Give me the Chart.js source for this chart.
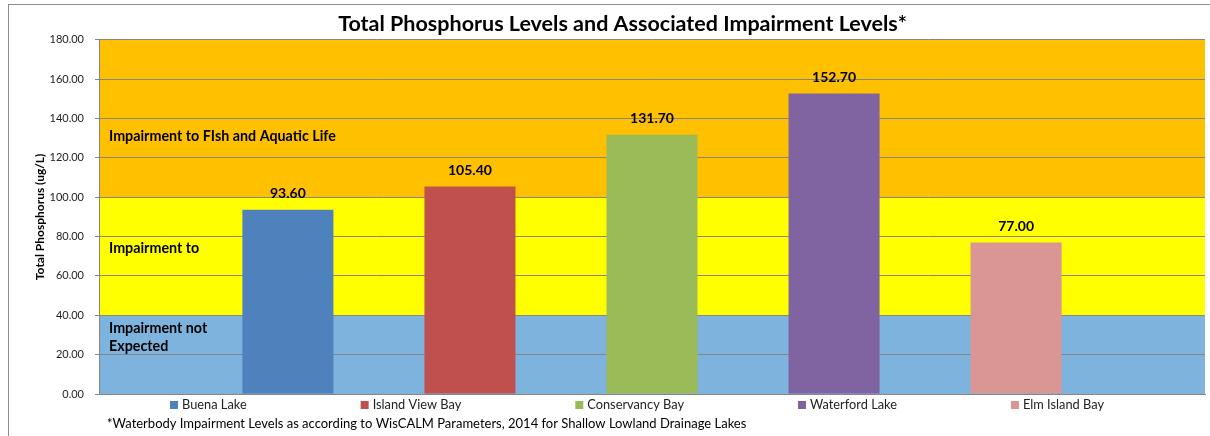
<!DOCTYPE html>
<html>
<head>
<meta charset="utf-8">
<script src="https://cdn.jsdelivr.net/npm/chart.js@4.4.1/dist/chart.umd.min.js"></script>
<style>
  html, body { margin: 0; padding: 0; background: #fff; overflow: hidden; }
  #frame { position: absolute; left: 8px; top: 4px; width: 1400px; height: 600px; border: 1px solid #8c8c8c; }
  #chart { position: absolute; left: 8px; top: 0; }
</style>
</head>
<body>
<div id="frame"></div>
<canvas id="chart" width="1229" height="436"></canvas>
<script>
const lakes = ['Buena Lake', 'Island View Bay', 'Conservancy Bay', 'Waterford Lake', 'Elm Island Bay'];
const phosphorus = [93.6, 105.4, 131.7, 152.7, 77.0];
const barColors = ['#4F81BD', '#C0504D', '#9BBB59', '#8064A2', '#D99694'];

const bandEdges = [0, 40, 100, 180];
const bandColors = ['#7EB3DE', '#FFFF00', '#FFC000'];
const bandLabels = [['Impairment not', 'Expected'], ['Impairment to'], ['Impairment to FIsh and Aquatic Life']];
const bandLabelAt = [29, 74, 131];

const chartTitle = 'Total Phosphorus Levels and Associated Impairment Levels*';
const yTitle = 'Total Phosphorus (ug/L)';
const footnote = '*Waterbody Impairment Levels as according to WisCALM Parameters, 2014 for Shallow Lowland Drainage Lakes';

const FONT = 'Lato, "Open Sans", sans-serif';
Chart.defaults.font.family = FONT;
Chart.defaults.color = '#222';

// impairment bands behind the bars, plus their captions
const bands = {
  id: 'bands',
  beforeDraw(chart) {
    const { ctx, chartArea: a, scales: { y } } = chart;
    ctx.save();
    for (let i = 0; i < bandColors.length; i++) {
      const top = y.getPixelForValue(bandEdges[i + 1]);
      const bottom = y.getPixelForValue(bandEdges[i]);
      ctx.fillStyle = bandColors[i];
      ctx.fillRect(a.left, top, a.right - a.left, bottom - top);
    }
    ctx.restore();
  },
  afterDatasetsDraw(chart) {
    const { ctx, chartArea: a, scales: { y } } = chart;
    ctx.save();
    ctx.font = 'bold 14.3px ' + FONT;
    ctx.fillStyle = '#000';
    ctx.textBaseline = 'middle';
    bandLabels.forEach((lines, i) => {
      const cy = y.getPixelForValue(bandLabelAt[i]);
      const lh = 18;
      lines.forEach((t, j) => {
        ctx.fillText(t, a.left + 10, cy + (j - (lines.length - 1) / 2) * lh);
      });
    });

    // value labels above bars
    ctx.font = 'bold 14px ' + FONT;
    ctx.textAlign = 'center';
    chart.data.datasets.forEach((ds, i) => {
      const bar = chart.getDatasetMeta(i).data[0];
      ctx.fillText(ds.data[0].toFixed(2), bar.x, bar.y - 16);
    });
    ctx.restore();
  }
};

// bottom legend row and footnote
const bottomText = {
  id: 'bottomText',
  afterDraw(chart) {
    const { ctx, chartArea: a } = chart;
    ctx.save();
    ctx.font = '12.8px ' + FONT;
    ctx.textBaseline = 'middle';
    const box = 8, gap = 114;
    const widths = chart.data.datasets.map(ds => box + 4 + ctx.measureText(ds.label).width);
    const total = widths.reduce((s, w) => s + w, 0) + gap * (widths.length - 1);
    let x = 629 - total / 2;
    const y = 405;
    chart.data.datasets.forEach((ds, i) => {
      ctx.fillStyle = ds.backgroundColor;
      ctx.fillRect(x, y - 4, box, box);
      ctx.fillStyle = '#222';
      ctx.fillText(ds.label, x + box + 4, y);
      x += widths[i] + gap;
    });
    ctx.font = '13px ' + FONT;
    ctx.fillStyle = '#000';
    ctx.fillText(footnote, a.left + 8, 424);
    ctx.restore();
  }
};

new Chart(document.getElementById('chart'), {
  type: 'bar',
  data: {
    labels: [''],
    datasets: lakes.map((name, i) => ({
      label: name,
      data: [phosphorus[i]],
      backgroundColor: barColors[i],
      barPercentage: 0.5,
      categoryPercentage: 0.823
    }))
  },
  options: {
    responsive: false,
    animation: false,
    layout: { padding: { left: 0, right: 0, top: 0, bottom: 42 } },
    plugins: {
      legend: { display: false },
      tooltip: { enabled: false },
      title: {
        display: true,
        text: chartTitle,
        color: '#000',
        font: { size: 21.5, weight: 'bold' },
        padding: { top: 11, bottom: 3 }
      }
    },
    scales: {
      x: {
        grid: { display: false, drawTicks: false },
        ticks: { display: false },
        border: { display: true, color: '#868686', width: 1 }
      },
      y: {
        min: 0,
        max: 180,
        afterFit(scale) { scale.width = 91; },
        ticks: {
          stepSize: 20,
          padding: 11,
          font: { size: 11 },
          color: '#222',
          callback: v => v.toFixed(2)
        },
        grid: { color: '#868686', tickLength: 4 },
        border: { display: true, color: '#868686' },
        title: {
          display: true,
          text: yTitle,
          color: '#000',
          font: { size: 12, weight: 'bold' },
          padding: { top: 25, bottom: 0 }
        }
      },
      // empty strip on the right, the chart runs past the window edge
      spacer: {
        position: 'right',
        afterFit(scale) { scale.width = 32; },
        grid: { display: false, drawTicks: false },
        ticks: { display: false },
        border: { display: false }
      }
    }
  },
  plugins: [bands, bottomText]
});
</script>
</body>
</html>
